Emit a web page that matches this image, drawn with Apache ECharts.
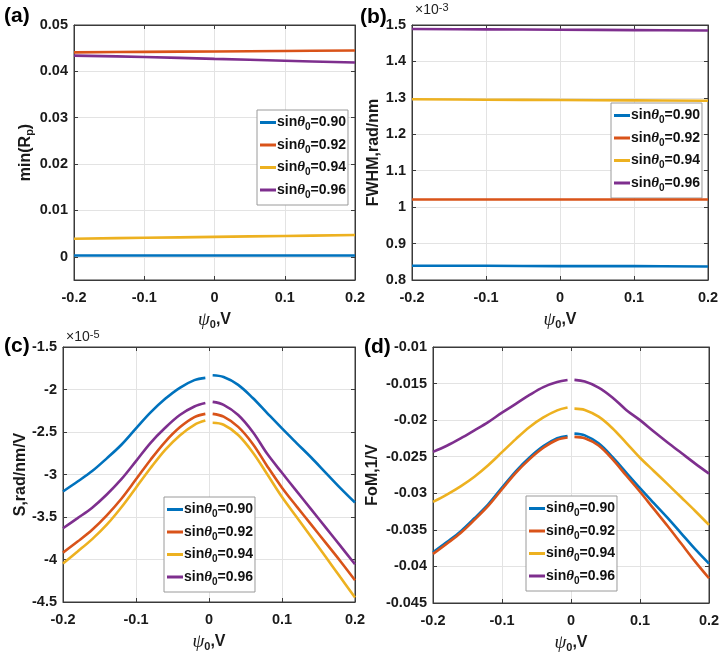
<!DOCTYPE html>
<html><head><meta charset="utf-8">
<script src="https://cdn.jsdelivr.net/npm/echarts@6/dist/echarts.min.js"></script>
<style>html,body{margin:0;padding:0;background:#fff}#c{width:723px;height:657px}</style>
</head><body><div id="c"></div>
<script>
// ---------------- data ----------------
const SERIES_NAMES = ['sinθ0=0.90','sinθ0=0.92','sinθ0=0.94','sinθ0=0.96'];
const X_TICKS = [-0.2,-0.1,0,0.1,0.2];
const X_FLAT = [-0.2,-0.1,0,0.1,0.2];
// (a) min(Rp)
const A_090 = [0.0003,0.0003,0.0003,0.0003,0.0003];
const A_092 = [0.0441,0.0442,0.0443,0.0444,0.0445];
const A_094 = [0.0039,0.0041,0.0043,0.0045,0.0047];
const A_096 = [0.0434,0.0431,0.0427,0.0423,0.0419];
const A_YTICKS = [0,0.01,0.02,0.03,0.04,0.05];
// (b) FWHM (x1e-3 rad/nm)
const B_090 = [0.839,0.839,0.838,0.838,0.837];
const B_092 = [1.021,1.021,1.021,1.021,1.021];
const B_094 = [1.296,1.295,1.294,1.293,1.292];
const B_096 = [1.489,1.488,1.487,1.486,1.485];
// (c),(d) sampled psi0 on each side of 0
const X_LEFT  = [-0.2,-0.18,-0.16,-0.14,-0.12,-0.1,-0.08,-0.06,-0.04,-0.02,-0.005];
const X_RIGHT = [0.005,0.02,0.04,0.06,0.08,0.1,0.12,0.14,0.16,0.18,0.2];
// (c) S (x1e-5 rad/nm/V)
const C_090_L = [-3.20,-3.083,-2.96,-2.81,-2.65,-2.458,-2.27,-2.11,-1.98,-1.89,-1.863];
const C_090_R = [-1.833,-1.853,-1.945,-2.10,-2.28,-2.458,-2.63,-2.80,-2.98,-3.16,-3.33];
const C_092_L = [-3.919,-3.789,-3.65,-3.48,-3.285,-3.057,-2.826,-2.615,-2.445,-2.325,-2.287];
const C_092_R = [-2.287,-2.32,-2.44,-2.64,-2.905,-3.155,-3.375,-3.59,-3.805,-4.02,-4.244];
const C_094_L = [-4.048,-3.906,-3.76,-3.59,-3.385,-3.155,-2.924,-2.71,-2.54,-2.415,-2.366];
const C_094_R = [-2.392,-2.415,-2.535,-2.74,-3.00,-3.265,-3.50,-3.735,-3.97,-4.21,-4.447];
const C_096_L = [-3.633,-3.513,-3.39,-3.235,-3.055,-2.842,-2.627,-2.45,-2.30,-2.20,-2.16];
const C_096_R = [-2.146,-2.18,-2.30,-2.50,-2.76,-2.98,-3.195,-3.41,-3.625,-3.84,-4.056];
// (d) FoM (1/V)
const D_090_L = [-0.03807,-0.03667,-0.03521,-0.03342,-0.03151,-0.02923,-0.02699,-0.02511,-0.02356,-0.02247,-0.02216];
const D_090_R = [-0.02184,-0.02208,-0.02317,-0.02503,-0.02717,-0.02929,-0.03134,-0.03337,-0.03551,-0.03765,-0.03962];
const D_092_L = [-0.03829,-0.03689,-0.03543,-0.03364,-0.03173,-0.02945,-0.02721,-0.02533,-0.02378,-0.02268,-0.02237];
const D_092_R = [-0.02229,-0.02248,-0.02347,-0.02533,-0.02757,-0.02979,-0.03214,-0.03447,-0.03691,-0.03935,-0.04162];
const D_094_L = [-0.03118,-0.03018,-0.02905,-0.02773,-0.02616,-0.02438,-0.02259,-0.02093,-0.01963,-0.01866,-0.01828];
const D_094_R = [-0.01842,-0.01860,-0.01953,-0.02110,-0.02310,-0.02514,-0.02695,-0.02875,-0.03058,-0.03242,-0.03433];
const D_096_L = [-0.02434,-0.02350,-0.02250,-0.02140,-0.02027,-0.01897,-0.01777,-0.01655,-0.01548,-0.01480,-0.01452];
const D_096_R = [-0.01450,-0.01473,-0.01554,-0.01689,-0.01860,-0.02000,-0.02155,-0.02305,-0.02450,-0.02594,-0.02731];

// ---------------- build ----------------
const COLORS = ['#0072BD','#D95319','#EDB120','#7E2F8E'];
const SANS = 'Liberation Sans, Arial, sans-serif';
const SERIF = 'Liberation Serif, DejaVu Serif, serif';
const AXIS_COLOR = '#3a3a3a';

function pairs(xs, ys){ return xs.map((x,i)=>[x, ys[i]]); }
function gapped(xl, yl, xr, yr){ return pairs(xl,yl).concat([[0,null]]).concat(pairs(xr,yr)); }

const panels = [
  { grid:{left:74, top:25, width:281, height:255}, ymin:-0.005, ymax:0.05, ycustom:A_YTICKS,
    yname:'{b|min(R}{s|p}{b|)}', ygap:36,
    data:[pairs(X_FLAT,A_090),pairs(X_FLAT,A_092),pairs(X_FLAT,A_094),pairs(X_FLAT,A_096)],
    legend:{left:257, top:110} },
  { grid:{left:412, top:25, width:296, height:255}, ymin:0.8, ymax:1.5, interval:0.1,
    yname:'{b|FWHM,rad/nm}', ygap:27,
    data:[pairs(X_FLAT,B_090),pairs(X_FLAT,B_092),pairs(X_FLAT,B_094),pairs(X_FLAT,B_096)],
    legend:{left:611, top:103} },
  { grid:{left:63, top:347, width:292, height:255}, ymin:-4.5, ymax:-1.5, interval:0.5,
    yname:'{b|S,rad/nm/V}', ygap:29,
    data:[gapped(X_LEFT,C_090_L,X_RIGHT,C_090_R),gapped(X_LEFT,C_092_L,X_RIGHT,C_092_R),
          gapped(X_LEFT,C_094_L,X_RIGHT,C_094_R),gapped(X_LEFT,C_096_L,X_RIGHT,C_096_R)],
    legend:{left:164, top:497} },
  { grid:{left:433, top:347, width:276, height:256}, ymin:-0.045, ymax:-0.01, interval:0.005,
    yname:'{b|FoM,1/V}', ygap:50,
    data:[gapped(X_LEFT,D_090_L,X_RIGHT,D_090_R),gapped(X_LEFT,D_092_L,X_RIGHT,D_092_R),
          gapped(X_LEFT,D_094_L,X_RIGHT,D_094_R),gapped(X_LEFT,D_096_L,X_RIGHT,D_096_R)],
    legend:{left:526, top:496} }
];

const nameRich = {
  b:{fontFamily:SANS, fontWeight:'bold', fontSize:16, color:'#1a1a1a', lineHeight:20, verticalAlign:'middle'},
  i:{fontFamily:SERIF, fontStyle:'italic', fontSize:19, color:'#1a1a1a', lineHeight:20, verticalAlign:'middle'},
  s:{fontFamily:SANS, fontWeight:'bold', fontSize:11, color:'#1a1a1a', lineHeight:11, verticalAlign:'bottom'}
};
const legRich = {
  b:{fontFamily:SANS, fontWeight:'bold', fontSize:14, color:'#111', lineHeight:20, verticalAlign:'middle'},
  t:{fontFamily:SERIF, fontStyle:'italic', fontWeight:'bold', fontSize:15, color:'#111', lineHeight:20, verticalAlign:'middle'},
  s:{fontFamily:SANS, fontWeight:'bold', fontSize:10, color:'#111', lineHeight:10, verticalAlign:'bottom'}
};

const option = {animation:false, backgroundColor:'#fff', grid:[], xAxis:[], yAxis:[], series:[], legend:[], graphic:[]};

panels.forEach((p, k)=>{
  option.grid.push(Object.assign({show:true, borderColor:AXIS_COLOR, borderWidth:1, backgroundColor:'#fff'}, p.grid));
  const labelStyle = {fontFamily:SANS, fontWeight:'bold', fontSize:14.5, color:'#1a1a1a'};
  option.xAxis.push({type:'value', gridIndex:k, min:-0.2, max:0.2, interval:0.1, position:'bottom',
    axisLine:{show:true, onZero:false, lineStyle:{color:AXIS_COLOR}},
    axisTick:{show:true, inside:true, length:4, lineStyle:{color:AXIS_COLOR}},
    axisLabel:Object.assign({margin:10, formatter:v=>String(Math.round(v*10)/10)}, labelStyle),
    splitLine:{show:true, lineStyle:{color:'#e3e3e3', width:1}},
    name:'{i|ψ}{s|0}{b|,V}', nameLocation:'middle', nameGap:30, nameTextStyle:{rich:nameRich}
  });
  option.xAxis.push({type:'value', gridIndex:k, min:-0.2, max:0.2, interval:0.1, position:'top',
    axisLine:{show:true, onZero:false, lineStyle:{color:AXIS_COLOR}},
    axisTick:{show:true, inside:true, length:4, lineStyle:{color:AXIS_COLOR}},
    axisLabel:{show:false}, splitLine:{show:false}});
  const yBase = {type:'value', gridIndex:k, min:p.ymin, max:p.ymax};
  if (p.interval) yBase.interval = p.interval;
  const yLeft = Object.assign({}, yBase, {position:'left',
    axisLine:{show:true, onZero:false, lineStyle:{color:AXIS_COLOR}},
    axisTick:{show:true, inside:true, length:4, lineStyle:{color:AXIS_COLOR}},
    axisLabel:Object.assign({margin:6, formatter:v=>String(parseFloat(v.toFixed(4)))}, labelStyle),
    splitLine:{show:true, lineStyle:{color:'#e3e3e3', width:1}},
    name:p.yname, nameLocation:'middle', nameGap:p.ygap, nameRotate:90, nameTextStyle:{rich:nameRich}
  });
  const yRight = Object.assign({}, yBase, {position:'right',
    axisLine:{show:true, onZero:false, lineStyle:{color:AXIS_COLOR}},
    axisTick:{show:true, inside:true, length:4, lineStyle:{color:AXIS_COLOR}},
    axisLabel:{show:false}, splitLine:{show:false}});
  if (p.ycustom){
    yLeft.axisTick.customValues = p.ycustom;
    yLeft.axisLabel.customValues = p.ycustom;
    yRight.axisTick.customValues = p.ycustom;
  }
  option.yAxis.push(yLeft, yRight);
  p.data.forEach((d, j)=>{
    option.series.push({type:'line', name:SERIES_NAMES[j], xAxisIndex:2*k, yAxisIndex:2*k,
      data:d, showSymbol:false, symbol:'none', connectNulls:false, smooth:0.35,
      lineStyle:{color:COLORS[j], width:2.6}, itemStyle:{color:COLORS[j]}, z:3+j});
  });
  option.legend.push({orient:'vertical', left:p.legend.left, top:p.legend.top,
    data:SERIES_NAMES.slice(), icon:'rect', itemWidth:16, itemHeight:3, itemGap:5,
    padding:[5,2,5,3], borderColor:'#9a9a9a', borderWidth:1, backgroundColor:'#fff',
    selectedMode:false,
    formatter:n=>'{b|sin}{t|θ}{s|0}{b|' + n.slice(n.indexOf('=')) + '}',
    textStyle:{rich:legRich, padding:[0,0,0,-4]}});
});

const lbl = (t, x, y) => ({type:'text', left:x, top:y, style:{text:t, font:'bold 21px ' + SANS, fill:'#000'}});
option.graphic.push(lbl('(a)',4,6), lbl('(b)',360,7), lbl('(c)',4,336), lbl('(d)',364,337));
const mult = (e, x, y) => ({type:'text', left:x, top:y, style:{
  text:'×10{e|' + e + '}', font:'14px ' + SANS, fill:'#222',
  rich:{e:{fontFamily:SANS, fontSize:11, verticalAlign:'top', lineHeight:16, padding:[0,0,6,0]}}}});
option.graphic.push(mult('-3',415,2), mult('-5',66,329));

const chart = echarts.init(document.getElementById('c'), null, {renderer:'canvas'});
chart.setOption(option);
</script></body></html>
